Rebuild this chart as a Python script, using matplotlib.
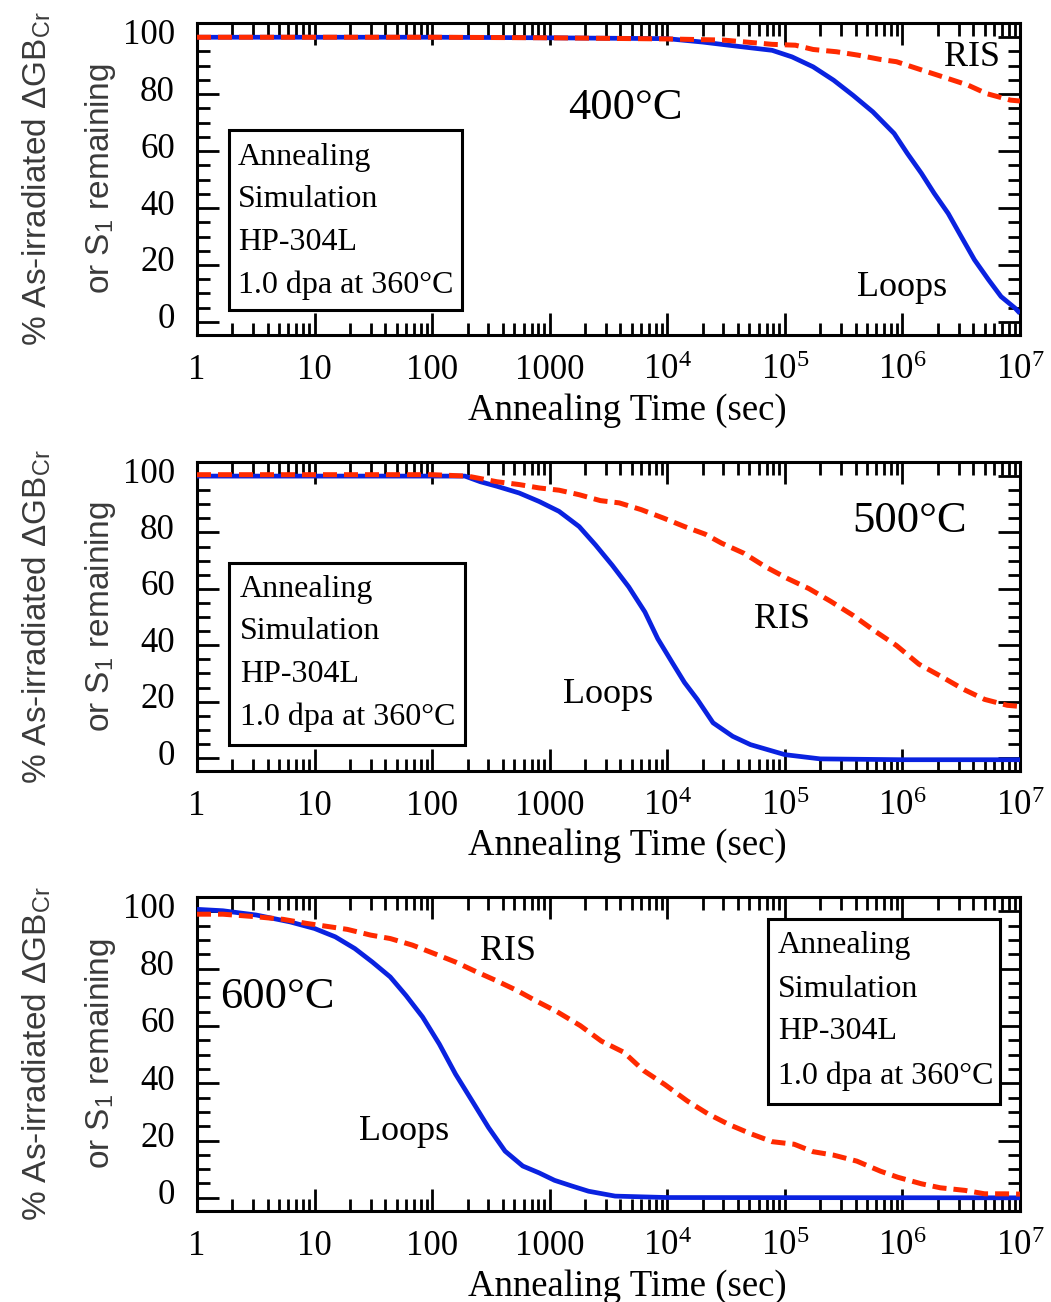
import matplotlib
matplotlib.use('Agg')
import matplotlib.pyplot as plt
import matplotlib.transforms as mtrans
from matplotlib.patches import Rectangle
from matplotlib.ticker import LogLocator, NullFormatter, FixedLocator, FixedFormatter, MultipleLocator
import numpy as np

plt.rcParams['font.family'] = ['Liberation Serif', 'DejaVu Serif']
plt.rcParams['mathtext.fontset'] = 'custom'
plt.rcParams['mathtext.rm'] = 'Liberation Serif'
plt.rcParams['mathtext.it'] = 'Liberation Serif:italic'
plt.rcParams['mathtext.sf'] = 'Liberation Sans'

# ---------------- data ----------------
t400_loops = [1, 10, 100, 1e3, 1e4, 2e4, 4e4, 7.8e4, 1.15e5, 1.74e5, 2.6e5, 3.8e5, 5.6e5,
              8.5e5, 1.1e6, 1.45e6, 1.86e6, 2.45e6, 3.16e6, 4.1e6, 5.4e6, 6.9e6, 9.1e6, 1e7]
loops400 = [100, 100, 100, 99.8, 99.5, 98.3, 96.8, 95.4, 93.1, 89.6, 84.9, 79.6, 73.8,
            66.2, 59.2, 52.2, 45.2, 38.1, 30, 21.8, 14.8, 8.9, 4.8, 3]
t400_ris = [1, 10, 100, 1e3, 1e4, 3e4, 7.8e4, 1.23e5, 1.74e5, 2.75e5, 4.2e5, 6.5e5, 8.9e5,
            1.48e6, 2.2e6, 3.6e6, 5.2e6, 8.3e6, 1e7]
ris400 = [100, 100, 100, 99.8, 99.4, 99, 97.5, 97.2, 95.7, 94.9, 93.7, 92.2, 91.4,
          88.4, 86.1, 83.2, 80.2, 77.9, 77.6]

t500_loops = [1, 10, 100, 190, 257, 355, 550, 813, 1200, 1780, 2450, 3400, 4700, 6450, 8300,
              1.1e4, 1.4e4, 1.8e4, 2.45e4, 3.6e4, 5.1e4, 7.1e4, 1e5, 2e5, 1e6, 1e7]
loops500 = [100, 100, 100, 100, 98, 96.4, 94, 91, 87.5, 82.1, 75.6, 68.4, 60.7, 51.8, 42.3,
            33.9, 26.8, 20.8, 12.5, 7.7, 4.75, 3, 1.2, -0.3, -0.6, -0.6]
t500_ris = [1, 10, 100, 200, 355, 550, 813, 1200, 1780, 2700, 3900, 6000, 9300, 1.4e4,
            2.1e4, 2.9e4, 4.5e4, 6.8e4, 1.05e5, 1.6e5, 2.45e5, 3.8e5, 5.75e5, 8.9e5, 1.38e6,
            2.1e6, 3.3e6, 5e6, 7.8e6, 1e7]
ris500 = [100.5, 100.5, 100.5, 100, 98, 97, 95.8, 95, 93.4, 91.3, 90.5, 88.1, 85.1, 82.1,
          79.4, 76.2, 72.6, 67.9, 63.7, 60.1, 55.6, 50.6, 45.2, 39.9, 33.3,
          29.1, 24.4, 20.8, 18.7, 18.3]

t600_loops = [1, 1.66, 3.2, 6.2, 10, 15, 22, 31, 44, 60, 83, 115, 158, 219, 302, 417, 590,
              813, 1100, 1550, 2140, 3600, 1e4, 1e7]
loops600 = [100.7, 100.2, 98.7, 96.3, 94, 91.1, 87, 82.3, 77.1, 70.6, 63.1, 53.7, 43.2, 33.8,
            24.5, 16.3, 11.1, 8.7, 6.1, 4.1, 2.3, 0.6, 0.1, 0]
t600_ris = [1, 1.66, 3.2, 5.4, 8.5, 13.5, 19, 30, 44, 68, 105, 158, 229, 347, 525, 776, 1150,
            1820, 2750, 4270, 6300, 9550, 1.48e4, 2.2e4, 3.3e4, 5.1e4, 7.8e4, 1.2e5, 1.74e5,
            2.6e5, 4.1e5, 6.5e5, 9.1e5, 1.45e6, 2.1e6, 3.4e6, 5e6, 7.4e6, 1e7]
ris600 = [99, 99, 98.1, 97.2, 95.8, 94.6, 93.7, 91.7, 90.5, 88.2, 85.2, 82.3, 79.2, 75.9,
          72.4, 68.6, 65, 60.1, 54.7, 50.8, 44.4, 39.5, 33.8, 29.4, 25.7, 22.4, 19.6, 18.7,
          16.1, 14.9, 12.8, 9.3, 7.2, 4.9, 3.5, 2.6, 1.4, 1.4, 1.3]

temps = ['400°C', '500°C', '600°C']
box_lines = ['Annealing', 'Simulation', 'HP-304L', '1.0 dpa at 360°C']
x_ticks = [1, 10, 100, 1000, 1e4, 1e5, 1e6, 1e7]
x_ticklabels = ['1', '10', '100', '1000', r'$10^{4}$', r'$10^{5}$', r'$10^{6}$', r'$10^{7}$']
y_ticks = [0, 20, 40, 60, 80, 100]

BLUE = '#0a22e0'
RED = '#ff2a00'

W, H = 1051, 1302
fig = plt.figure(figsize=(W / 100, H / 100), dpi=100)

# axes pixel boxes (left, top, right, bottom)
boxes_px = [(197, 23, 1020, 335), (197, 462, 1020, 771), (197, 897, 1020, 1211)]

panels = [
    dict(tl=t400_loops, l=loops400, tr=t400_ris, r=ris400,
         temp=(0.520, 0.728), ris=(0.942, 0.891), loops=(0.857, 0.151),
         box=(0.039, 0.080, 0.322, 0.657), box_text_x=0.050, box_text_y=[0.570, 0.433, 0.298, 0.160]),
    dict(tl=t500_loops, l=loops500, tr=t500_ris, r=ris500,
         temp=(0.866, 0.809), ris=(0.711, 0.489), loops=(0.499, 0.246),
         box=(0.039, 0.084, 0.326, 0.673), box_text_x=0.052, box_text_y=[0.586, 0.450, 0.311, 0.175]),
    dict(tl=t600_loops, l=loops600, tr=t600_ris, r=ris600,
         temp=(0.098, 0.682), ris=(0.378, 0.825), loops=(0.252, 0.252),
         box=(0.694, 0.341, 0.976, 0.930), box_text_x=0.706, box_text_y=[0.847, 0.707, 0.573, 0.430]),
]

for i, (p, (l, t, r, b)) in enumerate(zip(panels, boxes_px)):
    ax = fig.add_axes([l / W, 1 - b / H, (r - l) / W, (b - t) / H])
    ax.set_xscale('log')
    ax.set_xlim(1, 1e7)
    ax.set_ylim(-4.6, 105)

    ax.plot(p['tl'], p['l'], color=BLUE, lw=3.4, solid_capstyle='butt', zorder=3)
    ax.plot(p['tr'], p['r'], color=RED, lw=3.6, dashes=(2.8, 1.4), zorder=4)

    ax.xaxis.set_major_locator(FixedLocator(x_ticks))
    ax.xaxis.set_major_formatter(FixedFormatter(x_ticklabels))
    ax.xaxis.set_minor_locator(LogLocator(base=10, subs=np.arange(2, 10), numticks=20))
    ax.xaxis.set_minor_formatter(NullFormatter())
    ax.yaxis.set_major_locator(FixedLocator(y_ticks))
    ax.yaxis.set_minor_locator(MultipleLocator(5))

    ax.tick_params(which='both', direction='in', top=True, right=True, labelsize=25, width=2)
    ax.tick_params(which='major', length=16, pad=14)
    ax.tick_params(which='minor', length=9)
    ax.tick_params(axis='y', which='major', pad=16)
    for s in ax.spines.values():
        s.set_linewidth(2.2)

    off = mtrans.ScaledTranslation(0, 6 / 100, fig.dpi_scale_trans)
    for lab in ax.get_yticklabels():
        lab.set_transform(lab.get_transform() + off)

    ax.set_xlabel('Annealing Time (sec)', fontsize=26.5)
    ax.xaxis.set_label_coords(0.5225, -0.186)

    # annotations
    ax.text(*p['temp'], temps[i], transform=ax.transAxes, fontsize=32, ha='center', va='center')
    ax.text(*p['ris'], 'RIS', transform=ax.transAxes, fontsize=26, ha='center', va='center')
    ax.text(*p['loops'], 'Loops', transform=ax.transAxes, fontsize=26, ha='center', va='center')

    bx0, by0, bx1, by1 = p['box']
    ax.add_patch(Rectangle((bx0, by0), bx1 - bx0, by1 - by0, transform=ax.transAxes,
                           fill=True, facecolor='white', edgecolor='black', lw=2.2, zorder=5,
                           clip_on=False))
    for txt, yy in zip(box_lines, p['box_text_y']):
        ax.text(p['box_text_x'], yy, txt, transform=ax.transAxes, fontsize=23,
                ha='left', va='center', zorder=6)

    # y-axis labels (two lines)
    tr = mtrans.blended_transform_factory(fig.transFigure, ax.transAxes)
    ax.text(37 / W, 0.5, r'% As-irradiated ΔGB$_{\mathsf{Cr}}$', transform=tr, rotation=90,
            ha='center', va='center', fontsize=24, color='#3a3a3a',
            family=['Liberation Sans', 'DejaVu Sans'])
    ax.text(101 / W, 0.5, r'or S$_{\mathsf{1}}$ remaining', transform=tr, rotation=90,
            ha='center', va='center', fontsize=24, color='#3a3a3a',
            family=['Liberation Sans', 'DejaVu Sans'])

fig.savefig('out.png', dpi=100)
